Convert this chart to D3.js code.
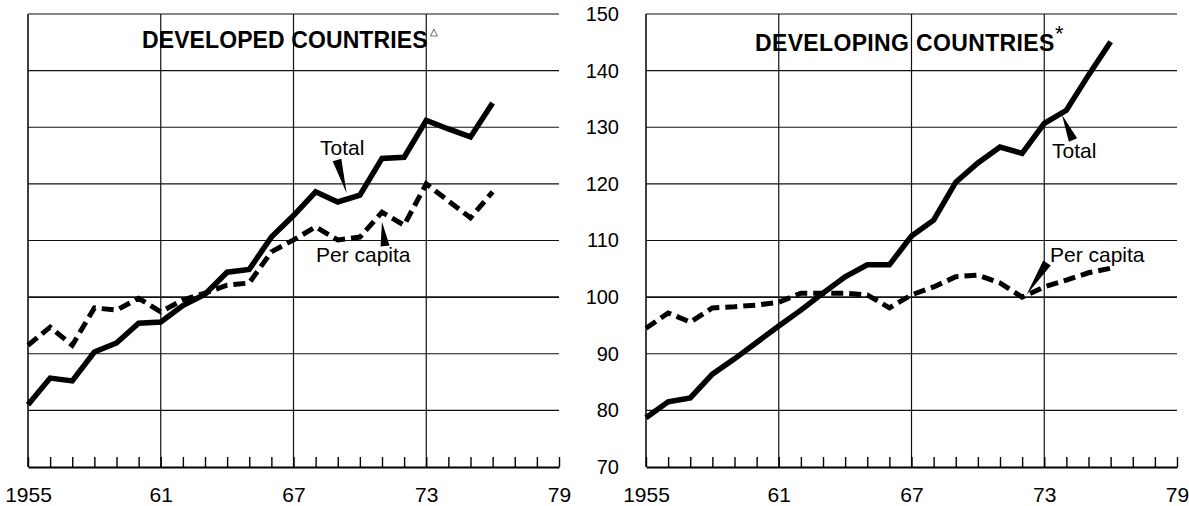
<!DOCTYPE html>
<html>
<head>
<meta charset="utf-8">
<script src="https://cdn.jsdelivr.net/npm/d3@7"></script>
<style>
  body { margin: 0; background: #fff; }
  svg { display: block; font-family: "Liberation Sans", Arial, sans-serif; }
  .line { fill: none; stroke: #000; stroke-linejoin: miter; stroke-miterlimit: 3; }
  .grid line { stroke: #111; }
  .axis text { fill: #000; }
</style>
</head>
<body>
<div id="graph"></div>
<script>
// data (index values)
const years = [1955, 1956, 1957, 1958, 1959, 1960, 1961, 1962, 1963, 1964, 1965,
  1966, 1967, 1968, 1969, 1970, 1971, 1972, 1973, 1974, 1975, 1976];
const allYears = [1955, 1956, 1957, 1958, 1959, 1960, 1961, 1962, 1963, 1964, 1965, 1966,
  1967, 1968, 1969, 1970, 1971, 1972, 1973, 1974, 1975, 1976, 1977, 1978, 1979];
const labelYears = [1955, 1961, 1967, 1973, 1979];
const yearLabels = ['1955', '61', '67', '73', '79'];
const valueTicks = [70, 80, 90, 100, 110, 120, 130, 140, 150];

const developedTotal = [81, 85.7, 85.2, 90.3, 91.9, 95.4, 95.6, 98.5, 100.5, 104.4, 104.9,
  110.6, 114.4, 118.6, 116.8, 118, 124.5, 124.7, 131.2, 129.7, 128.3, 134.3];
const developedPerCapita = [91.5, 94.7, 91.5, 98.1, 97.7, 99.8, 97.4, 99.5, 100.7, 102.1, 102.5,
  108, 110.1, 112.4, 110.1, 110.6, 115, 112.7, 120, 117, 114, 118.6];
const developingTotal = [78.7, 81.5, 82.2, 86.4, 89.1, 92, 94.9, 97.7, 100.7, 103.6, 105.7,
  105.7, 110.8, 113.6, 120.3, 123.7, 126.5, 125.4, 130.7, 133, 139.2, 145.1];
const developingPerCapita = [94.5, 97.2, 95.6, 98.1, 98.3, 98.6, 99.1, 100.7, 100.7, 100.7, 100.4,
  98.1, 100.4, 101.8, 103.6, 103.9, 102.5, 100, 101.8, 103, 104.3, 105.1];

const width = 1189;
const height = 506;
const panelW = 531;
const panelH = 453;

const svg = d3.select('#graph').append('svg')
  .attr('width', width)
  .attr('height', height);

const x = d3.scaleLinear().domain([1955, 1979]).range([0, panelW]);
const y = d3.scaleLinear().domain([70, 150]).range([panelH, 0]);

const line = d3.line()
  .x((d, i) => x(years[i]))
  .y(d => y(d));

function wedge(g, base, tip, w) {
  const dx = tip[0] - base[0], dy = tip[1] - base[1];
  const len = Math.sqrt(dx * dx + dy * dy);
  const nx = -dy / len * w / 2, ny = dx / len * w / 2;
  g.append('path')
    .attr('d', 'M' + (base[0] + nx) + ',' + (base[1] + ny) +
      'L' + (base[0] - nx) + ',' + (base[1] - ny) +
      'L' + tip[0] + ',' + tip[1] + 'Z')
    .attr('fill', '#000');
}

function drawPanel(left, opts) {
  const g = svg.append('g').attr('transform', 'translate(' + left + ',14)');

  // horizontal grid
  g.append('g').attr('class', 'grid')
    .selectAll('line')
    .data(valueTicks.slice(1))
    .join('line')
    .attr('x1', 0).attr('x2', x(1979))
    .attr('y1', d => y(d)).attr('y2', d => y(d))
    .attr('stroke-width', d => d === 100 ? 1.6 : 1.2);

  // vertical grid
  g.append('g').attr('class', 'grid')
    .selectAll('line')
    .data([1955, 1961, 1967, 1973])
    .join('line')
    .attr('x1', d => x(d)).attr('x2', d => x(d))
    .attr('y1', 0).attr('y2', panelH)
    .attr('stroke-width', d => d === 1955 ? 1.6 : 1.2);

  // minor year ticks + baseline
  const minor = g.append('g')
    .attr('transform', 'translate(0,' + panelH + ')')
    .call(d3.axisBottom(x).tickValues(allYears).tickSize(-10).tickSizeOuter(0).tickFormat(''));
  minor.select('.domain').attr('stroke', '#000').attr('stroke-width', 2);
  minor.selectAll('.tick line').attr('stroke', '#000').attr('stroke-width', 1.4);

  // year labels
  const xlab = g.append('g')
    .attr('class', 'axis')
    .attr('transform', 'translate(0,' + panelH + ')')
    .call(d3.axisBottom(x).tickValues(labelYears).tickSize(0).tickPadding(20)
      .tickFormat((d, i) => yearLabels[i]));
  xlab.select('.domain').remove();
  xlab.selectAll('text').attr('font-size', 21).attr('font-family', null);

  if (opts.yLabels) {
    const ylab = g.append('g')
      .attr('class', 'axis')
      .call(d3.axisLeft(y).tickValues(valueTicks).tickSize(0).tickPadding(27));
    ylab.select('.domain').remove();
    ylab.selectAll('text').attr('font-size', 20).attr('font-family', null);
  }

  // series
  g.append('path')
    .attr('class', 'line')
    .attr('stroke-width', 5.5)
    .attr('d', line(opts.total));
  g.append('path')
    .attr('class', 'line')
    .attr('stroke-width', 5)
    .attr('stroke-dasharray', '12,6')
    .attr('d', line(opts.perCapita));

  // title
  g.append('text')
    .attr('x', opts.titleX).attr('y', opts.titleY)
    .attr('font-size', 23).attr('font-weight', 'bold')
    .attr('letter-spacing', opts.titleSpacing)
    .text(opts.title);
  g.append('text')
    .attr('x', opts.mark.x).attr('y', opts.mark.y)
    .attr('font-size', opts.mark.size)
    .text(opts.mark.text);

  // callouts
  opts.notes.forEach(n => {
    g.append('text')
      .attr('x', n.x).attr('y', n.y)
      .attr('font-size', 21)
      .text(n.text);
    wedge(g, n.base, [x(n.tip[0]), y(n.tip[1])], 9);
  });
}

drawPanel(28, {
  title: 'DEVELOPED COUNTRIES',
  titleX: 114, titleY: 34, titleSpacing: 0.1,
  mark: {text: '\u25B3', x: 402, y: 21, size: 10},
  total: developedTotal,
  perCapita: developedPerCapita,
  yLabels: false,
  notes: [
    {text: 'Total', x: 292, y: 141, base: [309, 146], tip: [1969.4, 118.4]},
    {text: 'Per capita', x: 288, y: 248, base: [357, 232], tip: [1971, 113.3]}
  ]
});

drawPanel(646, {
  title: 'DEVELOPING COUNTRIES',
  titleX: 109, titleY: 37, titleSpacing: 0.35,
  mark: {text: '*', x: 409, y: 27, size: 22},
  total: developingTotal,
  perCapita: developingPerCapita,
  yLabels: true,
  notes: [
    {text: 'Total', x: 406, y: 144, base: [427, 126], tip: [1973.8, 132.2]},
    {text: 'Per capita', x: 404, y: 248, base: [401, 249], tip: [1972.2, 100.4]}
  ]
});
</script>
</body>
</html>
